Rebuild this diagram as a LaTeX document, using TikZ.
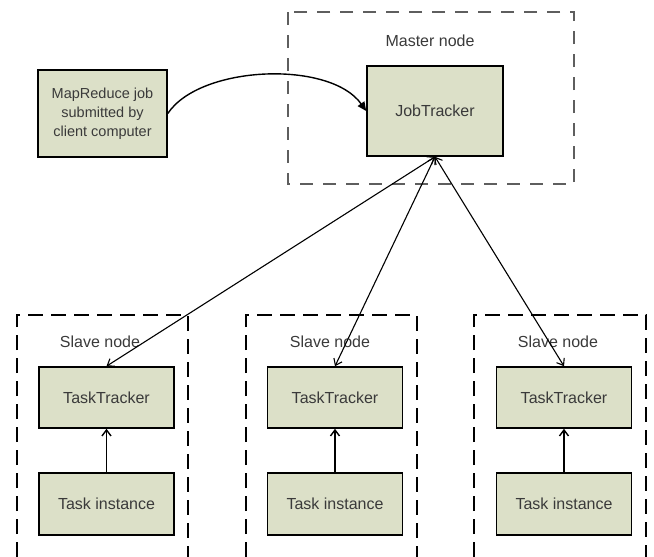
\documentclass[tikz,border=0pt]{standalone}
\usepackage{fontspec}
\setmainfont{Liberation Sans}
\usetikzlibrary{arrows.meta}
\definecolor{boxfill}{HTML}{DCE0C8}
\definecolor{txt}{HTML}{3A3A3A}
\definecolor{mastergray}{HTML}{5E5E5E}
\tikzset{
  x=1pt, y=-1pt,
  unit/.style={draw=black, line width=1.6pt, fill=boxfill, text=txt,
    font=\fontsize{16}{19}\selectfont, align=center, inner sep=0pt},
  smallunit/.style={unit, font=\fontsize{14.5}{19}\selectfont},
  grouplabel/.style={text=txt, font=\fontsize{16}{19}\selectfont, inner sep=0pt},
  masterframe/.style={draw=mastergray, line width=2.4pt, dash pattern=on 13pt off 10pt},
  slaveframe/.style={draw=black, line width=1.8pt, dash pattern=on 15pt off 8pt},
  link/.style={line width=1.1pt, {Straight Barb[length=6pt,width=9pt]}-{Straight Barb[length=6pt,width=9pt]}},
  uplink/.style={line width=1.4pt, -{Straight Barb[length=6pt,width=9pt]}},
  submit/.style={line width=1.4pt, -{Triangle[length=9pt,width=8pt]}},
}
\begin{document}
\begin{tikzpicture}
\useasboundingbox[fill=white] (0,0) rectangle (654,557);

% master node frame
\draw[masterframe] (288,12) rectangle (574,184);
\node[grouplabel] (mlabel) at (430,41) {Master node};

% slave node frames, open at the lower page edge
\foreach \l/\r in {17/188, 246/417, 474/646}{
  \draw[slaveframe] (\l,557) -- (\l,315) -- (\r,315) -- (\r,557);
}
\node[grouplabel] (slabelA) at (100,342) {Slave node};
\node[grouplabel] (slabelB) at (330,342) {Slave node};
\node[grouplabel] (slabelC) at (558,342) {Slave node};

% boxes
\node[smallunit, minimum width=129pt, minimum height=87pt] (client) at (102.5,113.5)
  {MapReduce job\\submitted by\\client computer};
\node[unit, minimum width=136pt, minimum height=90pt] (jt) at (435,111) {JobTracker};

\node[unit, minimum width=135pt, minimum height=61pt] (ttA) at (106.5,397.5) {TaskTracker};
\node[unit, minimum width=135pt, minimum height=61pt] (ttB) at (335,397.5) {TaskTracker};
\node[unit, minimum width=135pt, minimum height=61pt] (ttC) at (564,397.5) {TaskTracker};

\node[unit, minimum width=135pt, minimum height=62pt] (tiA) at (106.5,504) {Task instance};
\node[unit, minimum width=135pt, minimum height=62pt] (tiB) at (335,504) {Task instance};
\node[unit, minimum width=135pt, minimum height=62pt] (tiC) at (564,504) {Task instance};

% job submission
\draw[submit] (client.east) .. controls (200,65) and (330,60) .. (jt.west);

% JobTracker <-> TaskTrackers
\draw[link] (jt.south) -- (ttA.north);
\draw[link] (jt.south) -- (ttB.north);
\draw[link] (jt.south) -- (ttC.north);

% task instances report to their TaskTracker
\draw[uplink] (tiA.north) -- (ttA.south);
\draw[uplink] (tiB.north) -- (ttB.south);
\draw[uplink] (tiC.north) -- (ttC.south);
\end{tikzpicture}
\end{document}
